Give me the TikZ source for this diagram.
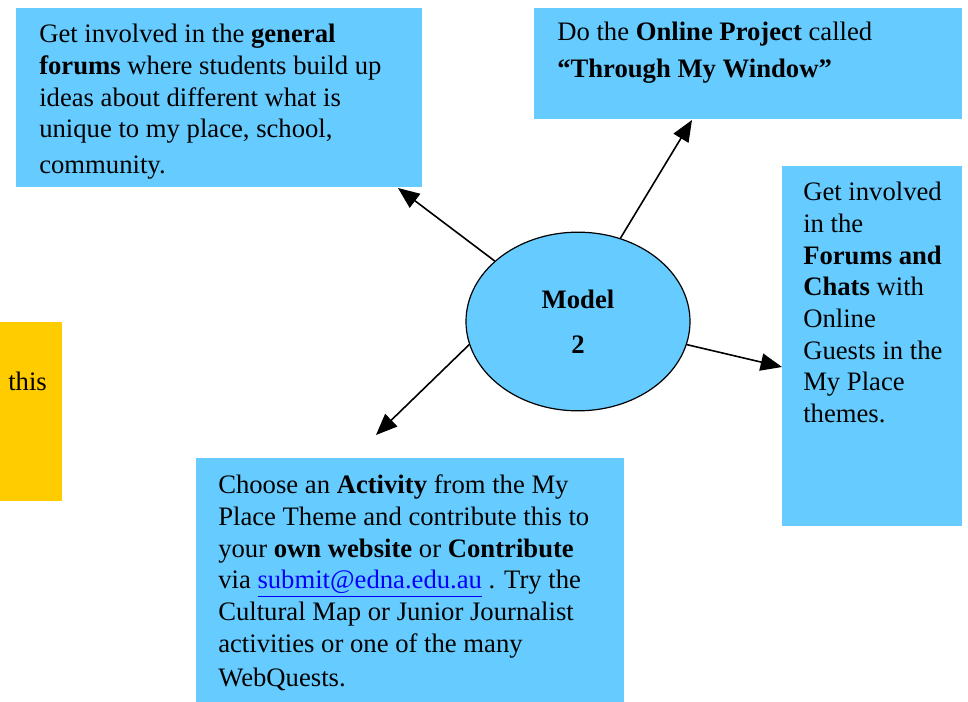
\documentclass[tikz,border=0pt]{standalone}
\usepackage{fontspec}
\setmainfont{Liberation Serif}
\usetikzlibrary{arrows.meta,shapes.geometric}
\definecolor{skyblue}{HTML}{66CCFF}
\definecolor{gold}{HTML}{FFCC00}
\definecolor{maillink}{HTML}{0000FF}
\begin{document}
\begin{tikzpicture}[x=0.75pt,y=-0.75pt]
        \tikzstyle{card} = [rectangle, fill=skyblue, inner sep=0pt]
        \tikzstyle{txt} = [align=left, inner sep=0pt, anchor=north west, font=\fontsize{20}{23.8}\selectfont]
        \tikzstyle{hub} = [ellipse, fill=skyblue, draw=black, line width=0.9pt, minimum width=168pt, minimum height=134pt, align=center, font=\fontsize{20}{23.8}\selectfont\bfseries]
        \tikzstyle{arrow} = [line width=1.2pt, -{Triangle[length=16pt,width=13pt]}]
        \useasboundingbox (0,0) rectangle (968,702);
        \node (a) [card, minimum width=304.5pt, minimum height=134.25pt] at (219, 97.5) {};
        \node (b) [card, minimum width=321pt, minimum height=83.25pt] at (748, 63.5) {};
        \node (c) [card, minimum width=135pt, minimum height=270pt] at (872, 346) {};
        \node (d) [card, minimum width=321pt, minimum height=183pt] at (410, 580) {};
        \node (o) [rectangle, fill=gold, inner sep=0pt, minimum width=46.5pt, minimum height=134.25pt] at (31, 411.5) {};
        \node (m) [hub] at (578, 321.5) {Model\\[10pt]2};
        % texts
        \node (ta) [txt] at (39, 23.8) {Get involved in the \textbf{general}\\\textbf{forums} where students build up\\ideas about different what is\\unique to my place, school,\\[3pt]community.};
        \node (tb) [txt] at (557, 21.7) {Do the \textbf{Online Project} called\\[4pt]\textbf{``Through My Window''}};
        \node (tc) [txt] at (803, 181.8) {Get involved\\in the\\\textbf{Forums and}\\\textbf{Chats} with\\Online\\Guests in the\\My Place\\themes.};
        \node (td) [txt] at (218, 474.6) {Choose an \textbf{Activity} from the My\\Place Theme and contribute this to\\your \textbf{own website} or \textbf{Contribute}\\via \textcolor{maillink}{\underline{submit@edna.edu.au}} . Try the\\Cultural Map or Junior Journalist\\activities or one of the many\\[2pt]WebQuests.};
        \node (tt) [txt] at (8, 371.8) {this};
        % arrow ends
        \coordinate (ea) at (398, 188);
        \coordinate (eb) at (692, 120);
        \coordinate (ec) at (782, 367);
        \coordinate (ed) at (376, 435);
        \draw[arrow] (m.144) to (ea);
        \draw[arrow] (m.63) to (eb);
        \draw[arrow] (m.-12) to (ec);
        \draw[arrow] (m.-168) to (ed);
\end{tikzpicture}
\end{document}
